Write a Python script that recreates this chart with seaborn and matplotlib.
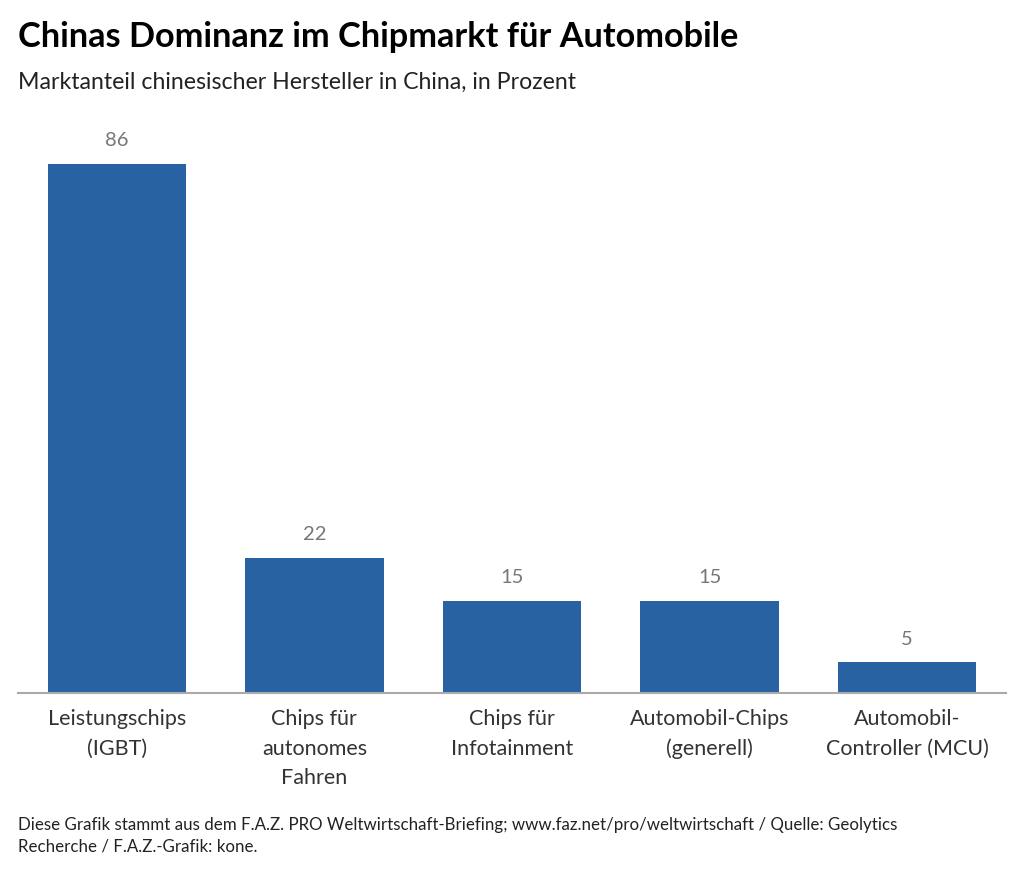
import matplotlib
matplotlib.use("Agg")
import matplotlib.pyplot as plt
import seaborn as sns
import pandas as pd

kategorien = ["Leistungschips\n(IGBT)", "Chips für\nautonomes\nFahren", "Chips für\nInfotainment",
              "Automobil-Chips\n(generell)", "Automobil-\nController (MCU)"]
anteile = [86, 22, 15, 15, 5]

df = pd.DataFrame({"Kategorie": kategorien, "Anteil": anteile})

sns.set_theme(style="white")
plt.rcParams["font.family"] = ["Lato", "DejaVu Sans"]

fig = plt.figure(figsize=(10.24, 8.79), dpi=100)
ax = fig.add_axes([18 / 1024, 185 / 879, 988 / 1024, 554 / 879])

sns.barplot(data=df, x="Kategorie", y="Anteil", color="#2862a3", width=0.70,
            saturation=1, linewidth=0, ax=ax)

for i, v in enumerate(anteile):
    ax.text(i, v + 2.5, f"{v}", ha="center", va="bottom", fontsize=14.5, color="#777777")

ax.set_xlim(-0.5, 4.5)
ax.set_ylim(0, 90)
ax.set_xlabel("")
ax.set_ylabel("")
ax.set_yticks([])
sns.despine(ax=ax, left=True)
ax.spines["bottom"].set_color("#aaaaaa")
ax.spines["bottom"].set_linewidth(1.5)
ax.tick_params(axis="x", length=0, pad=11, labelsize=15.5, labelcolor="#333333")
for lbl in ax.get_xticklabels():
    lbl.set_linespacing(1.58)
    lbl.set_va("top")

fig.text(18 / 1024, 1 - 37 / 879, "Chinas Dominanz im Chipmarkt für Automobile",
         fontsize=24.7, fontweight="bold", color="#000000", va="center")
fig.text(18 / 1024, 1 - 82 / 879, "Marktanteil chinesischer Hersteller in China, in Prozent",
         fontsize=16.7, color="#222222", va="center")
fig.text(18 / 1024, 1 - 836 / 879,
         "Diese Grafik stammt aus dem F.A.Z. PRO Weltwirtschaft-Briefing; www.faz.net/pro/weltwirtschaft / Quelle: Geolytics\nRecherche / F.A.Z.-Grafik: kone.",
         fontsize=12.2, color="#222222", va="center", linespacing=1.45)

fig.savefig("out.png", dpi=100)
